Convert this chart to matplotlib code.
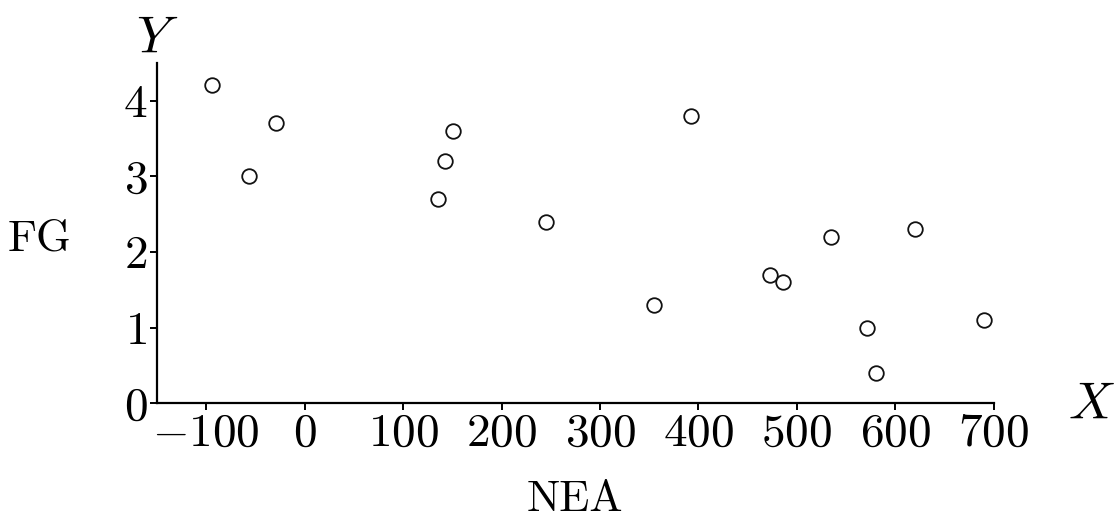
import matplotlib
matplotlib.use("Agg")
import matplotlib.pyplot as plt

plt.rcParams['font.family'] = 'serif'
plt.rcParams['font.serif'] = ['cmr10']
plt.rcParams['mathtext.fontset'] = 'cm'
plt.rcParams['axes.formatter.use_mathtext'] = True

# NEA vs FG
nea = [-94, -57, -29, 135, 143, 151, 245, 355, 392, 473, 486, 535, 571, 580, 620, 690]
fg = [4.2, 3.0, 3.7, 2.7, 3.2, 3.6, 2.4, 1.3, 3.8, 1.7, 1.6, 2.2, 1.0, 0.4, 2.3, 1.1]
x_ticks = [-100, 0, 100, 200, 300, 400, 500, 600, 700]
y_ticks = [0, 1, 2, 3, 4]

fig = plt.figure(figsize=(11.14, 5.23), dpi=100)
ax = fig.add_axes([0.141, 0.229, 0.751, 0.651])

ax.scatter(nea, fg, s=110, facecolors='white', edgecolors='#111111', linewidths=1.3, zorder=3)

ax.set_xlim(-150, 700)
ax.set_ylim(0, 4.5)
ax.set_xticks(x_ticks)
ax.set_yticks(y_ticks)
ax.set_xticklabels([f"${v}$" for v in x_ticks])
ax.set_yticklabels([f"${v}$" for v in y_ticks])
ax.tick_params(labelsize=34, width=1.4, length=5, pad=2)

for side in ['top', 'right']:
    ax.spines[side].set_visible(False)
for side in ['left', 'bottom']:
    ax.spines[side].set_linewidth(1.6)

ax.set_xlabel("NEA", fontsize=32, va='center')
ax.set_ylabel("FG", fontsize=32, rotation=0, ha='center', va='center')
ax.yaxis.set_label_coords(-0.141, 0.48)
ax.xaxis.set_label_coords(0.5, -0.285)

fig.text(0.141, 0.925, "$Y$", fontsize=38, ha='center', va='center')
fig.text(0.98, 0.225, "$X$", fontsize=38, ha='center', va='center')

fig.savefig("out.png", dpi=100)
